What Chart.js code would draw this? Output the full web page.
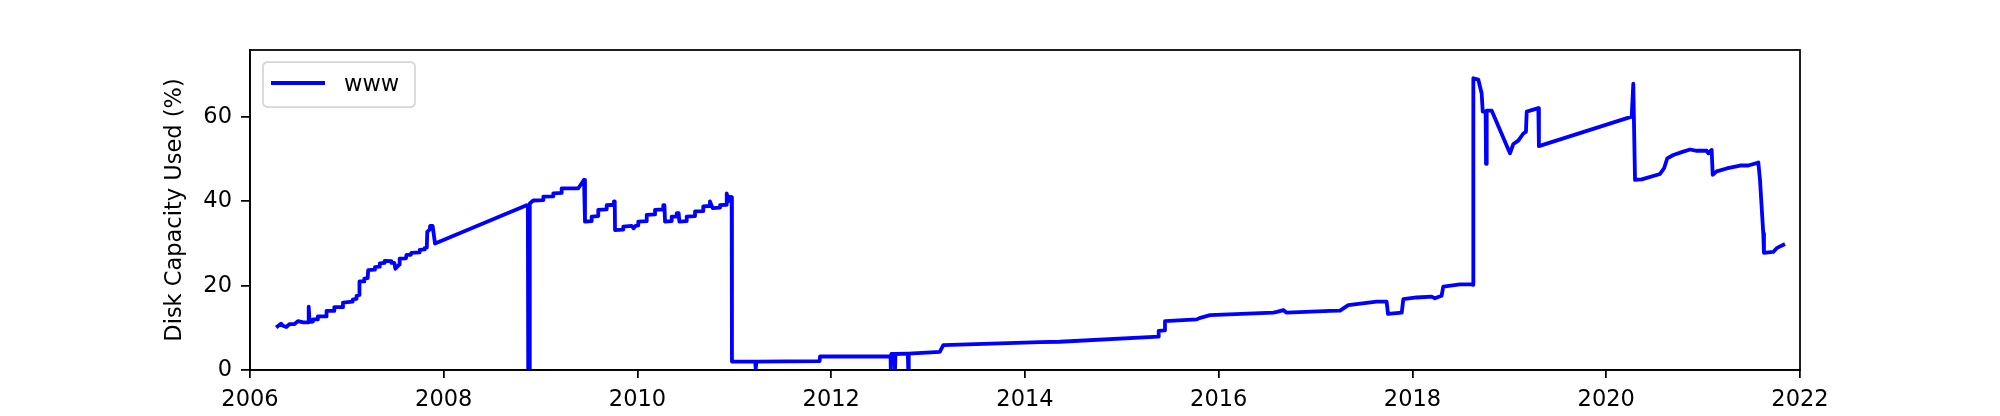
<!DOCTYPE html>
<html>
<head>
<meta charset="utf-8">
<script src="https://cdn.jsdelivr.net/npm/chart.js@4.4.1/dist/chart.umd.min.js"></script>
<style>
  html, body { margin: 0; padding: 0; background: #ffffff; }
  #wrap { width: 2000px; height: 416px; }
</style>
</head>
<body>
<div id="wrap"><canvas id="c" width="2000" height="416"></canvas></div>
<script>
// ---- data (decimal year, % used) ----
const seriesLabel = "www";
const yAxisTitle = "Disk Capacity Used (%)";
const years = [
  2006.27, 2006.32, 2006.34, 2006.375, 2006.41, 2006.46, 2006.495, 2006.55, 2006.60, 2006.606,
  2006.615, 2006.65, 2006.65, 2006.70, 2006.70, 2006.79, 2006.79, 2006.87, 2006.87, 2006.96,
  2006.96, 2007.06, 2007.06, 2007.095, 2007.10, 2007.13, 2007.13, 2007.18, 2007.18, 2007.215,
  2007.22, 2007.285, 2007.29, 2007.335, 2007.34, 2007.39, 2007.39, 2007.46, 2007.46, 2007.49,
  2007.50, 2007.54, 2007.545, 2007.61, 2007.615, 2007.66, 2007.665, 2007.75, 2007.752, 2007.80,
  2007.803, 2007.825, 2007.83, 2007.855, 2007.86, 2007.885, 2007.91, 2008.855, 2008.868, 2008.872,
  2008.882, 2008.888, 2008.924, 2009.028, 2009.028, 2009.131, 2009.131, 2009.217, 2009.217, 2009.389,
  2009.424, 2009.448, 2009.458, 2009.527, 2009.527, 2009.595, 2009.595, 2009.682, 2009.682, 2009.757,
  2009.757, 2009.765, 2009.768, 2009.853, 2009.853, 2009.94, 2009.96, 2009.98, 2010.008, 2010.008,
  2010.095, 2010.095, 2010.181, 2010.181, 2010.266, 2010.266, 2010.278, 2010.284, 2010.353, 2010.353,
  2010.405, 2010.405, 2010.425, 2010.432, 2010.508, 2010.508, 2010.594, 2010.594, 2010.679, 2010.679,
  2010.74, 2010.748, 2010.776, 2010.852, 2010.852, 2010.915, 2010.921, 2010.937, 2010.955, 2010.972,
  2010.975, 2011.215, 2011.22, 2011.228, 2011.880, 2011.884, 2012.612, 2012.615, 2012.62, 2012.653,
  2012.658, 2012.663, 2012.79, 2012.795, 2012.80, 2013.12, 2013.157, 2014.155, 2014.36, 2015.376,
  2015.38, 2015.44, 2015.445, 2015.773, 2015.80, 2015.91, 2016.563, 2016.60, 2016.667, 2016.701,
  2017.15, 2017.252, 2017.337, 2017.63, 2017.733, 2017.747, 2017.889, 2017.905, 2018.043, 2018.198,
  2018.232, 2018.30, 2018.318, 2018.49, 2018.611, 2018.625, 2018.628, 2018.679, 2018.714, 2018.725,
  2018.755, 2018.759, 2018.766, 2018.818, 2019.006, 2019.041, 2019.092, 2019.144, 2019.171, 2019.179,
  2019.299, 2019.305, 2020.263, 2020.279, 2020.297, 2020.366, 2020.555, 2020.596, 2020.630, 2020.692,
  2020.795, 2020.865, 2020.934, 2021.037, 2021.053, 2021.088, 2021.099, 2021.140, 2021.243, 2021.381,
  2021.466, 2021.570, 2021.587, 2021.621, 2021.628, 2021.724, 2021.759, 2021.845
];
const usage = [
  10.1, 11.0, 10.5, 10.2, 10.9, 10.9, 11.6, 11.3, 11.3, 15.0,
  11.4, 11.5, 12.0, 12.0, 12.7, 12.7, 14.0, 14.0, 14.9, 14.9,
  16.0, 16.2, 16.7, 16.9, 17.6, 17.8, 21.0, 21.0, 21.7, 21.8,
  23.7, 23.8, 24.4, 24.5, 25.3, 25.4, 25.9, 25.8, 25.4, 25.4,
  24.0, 25.0, 26.4, 26.5, 27.3, 27.3, 27.8, 27.9, 28.5, 28.6,
  28.9, 29.0, 32.8, 33.3, 34.2, 34.2, 30.0, 39.1, 38.9, 0,
  0, 39.5, 40.2, 40.3, 41.1, 41.2, 41.9, 42.0, 43.1, 43.1,
  44.3, 45.1, 35.2, 35.3, 36.4, 36.5, 38.0, 38.1, 39.1, 39.2,
  40.0, 40.0, 33.2, 33.3, 34.0, 34.2, 33.6, 34.2, 34.3, 35.2,
  35.3, 36.8, 36.9, 38.0, 38.1, 39.1, 39.1, 35.2, 35.3, 36.4,
  36.4, 37.2, 37.2, 35.2, 35.3, 36.4, 36.5, 37.6, 37.7, 38.8,
  38.9, 40.0, 38.4, 38.5, 39.1, 39.2, 41.9, 40.0, 41.1, 41.0,
  2.0, 2.0, 0.3, 2.0, 2.1, 3.2, 3.2, 0, 3.8, 3.8,
  0, 3.8, 3.9, 0, 3.9, 4.3, 5.9, 6.6, 6.7, 7.9,
  9.3, 9.4, 11.6, 12.0, 12.3, 13.0, 13.6, 13.8, 14.2, 13.6,
  14.0, 14.1, 15.4, 16.2, 16.2, 13.3, 13.6, 16.8, 17.2, 17.4,
  17.0, 17.6, 19.8, 20.3, 20.3, 20.2, 69.2, 68.9, 65.6, 61.3,
  61.3, 48.9, 61.5, 61.5, 51.4, 53.6, 54.4, 56.1, 56.5, 61.3,
  62.1, 53.1, 60.1, 67.9, 45.1, 45.2, 46.5, 47.8, 50.2, 51.0,
  51.8, 52.3, 52.0, 52.0, 51.4, 52.2, 46.3, 47.1, 47.8, 48.5,
  48.5, 49.2, 45.1, 32.4, 27.8, 28.0, 28.9, 29.9
];
const xRange = [2006, 2022];
const xStep = 2;
const yRange = [0, 75.9];
const yStep = 20;

const FONT = "'DejaVu Sans', sans-serif";
const FS = 22.5;

const points = years.map((x, i) => ({ x: x, y: usage[i] }));

const framePlugin = {
  id: 'frame',
  afterDatasetsDraw(chart) {
    const { ctx, chartArea: a } = chart;
    ctx.save();
    ctx.strokeStyle = '#000000';
    ctx.lineWidth = 1.75;
    ctx.strokeRect(a.left, a.top, a.right - a.left, a.bottom - a.top);
    ctx.restore();
  },
  afterDraw(chart) {
    // legend box (upper left, inside the axes)
    const { ctx, chartArea: a } = chart;
    const ds = chart.data.datasets[0];
    const bx = a.left + 13, by = a.top + 12, bw = 152, bh = 45, r = 5;
    ctx.save();
    ctx.beginPath();
    ctx.moveTo(bx + r, by);
    ctx.lineTo(bx + bw - r, by);
    ctx.quadraticCurveTo(bx + bw, by, bx + bw, by + r);
    ctx.lineTo(bx + bw, by + bh - r);
    ctx.quadraticCurveTo(bx + bw, by + bh, bx + bw - r, by + bh);
    ctx.lineTo(bx + r, by + bh);
    ctx.quadraticCurveTo(bx, by + bh, bx, by + bh - r);
    ctx.lineTo(bx, by + r);
    ctx.quadraticCurveTo(bx, by, bx + r, by);
    ctx.closePath();
    ctx.fillStyle = 'rgba(255,255,255,0.8)';
    ctx.fill();
    ctx.strokeStyle = '#d6d6d6';
    ctx.lineWidth = 1.75;
    ctx.stroke();
    ctx.beginPath();
    ctx.moveTo(bx + 8, by + 21);
    ctx.lineTo(bx + 62, by + 21);
    ctx.strokeStyle = ds.borderColor;
    ctx.lineWidth = ds.borderWidth;
    ctx.stroke();
    ctx.fillStyle = '#000000';
    ctx.font = FS + 'px ' + FONT;
    ctx.textBaseline = 'alphabetic';
    ctx.textAlign = 'left';
    ctx.fillText(ds.label, bx + 81, by + 29);
    ctx.restore();
  }
};

new Chart(document.getElementById('c'), {
  type: 'line',
  data: {
    datasets: [{
      label: seriesLabel,
      data: points,
      borderColor: '#0000ff',
      backgroundColor: '#0000ff',
      borderWidth: 3.8,
      pointRadius: 0,
      tension: 0,
      fill: false,
      borderJoinStyle: 'round',
      borderCapStyle: 'butt'
    }]
  },
  options: {
    responsive: false,
    animation: false,
    devicePixelRatio: 1,
    layout: { padding: { left: 162, top: 50, right: 200, bottom: 0 } },
    plugins: { legend: { display: false }, tooltip: { enabled: false } },
    scales: {
      x: {
        type: 'linear',
        min: xRange[0], max: xRange[1],
        afterFit(s) { s.height = 46; },
        grid: { drawOnChartArea: false, color: '#000000', lineWidth: 1.75, tickLength: 8, tickWidth: 1.75 },
        border: { display: true, color: '#000000', width: 1.75 },
        ticks: {
          stepSize: xStep, includeBounds: false, autoSkip: false, maxRotation: 0,
          color: '#000000', padding: 9, font: { family: FONT, size: FS },
          callback: (v) => String(v)
        }
      },
      y: {
        type: 'linear',
        min: yRange[0], max: yRange[1],
        afterFit(s) { s.width = 88; },
        grid: { drawOnChartArea: false, color: '#000000', lineWidth: 1.75, tickLength: 9, tickWidth: 1.75 },
        border: { display: true, color: '#000000', width: 1.75 },
        title: { display: true, text: yAxisTitle, color: '#000000', padding: 0, font: { family: FONT, size: FS } },
        ticks: {
          stepSize: yStep, includeBounds: false, color: '#000000', padding: 9,
          font: { family: FONT, size: FS },
          callback: (v) => String(v)
        }
      }
    }
  },
  plugins: [framePlugin]
});
</script>
</body>
</html>
